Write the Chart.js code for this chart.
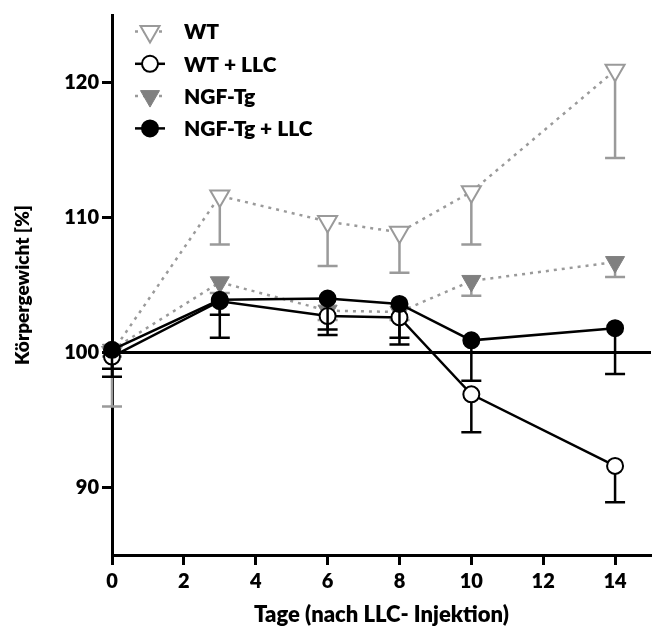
<!DOCTYPE html>
<html>
<head>
<meta charset="utf-8">
<script src="https://cdn.jsdelivr.net/npm/chart.js@4/dist/chart.umd.min.js"></script>
<style>
  html, body { margin: 0; padding: 0; background: #fff; overflow: hidden; }
  #wrap { width: 664px; height: 628px; }
  canvas { display: block; }
</style>
</head>
<body>
<div id="wrap"><canvas id="myChart" width="664" height="628"></canvas></div>
<script>
// Tage nach LLC-Injektion
const days = [0, 3, 6, 8, 10, 14];

// Körpergewicht [%] je Gruppe, Fehler = SEM (nach unten)
const wt = [100.0, 111.6, 109.7, 108.9, 111.9, 120.9];
const wtErr = [4.0, 3.6, 3.3, 3.0, 3.9, 6.5];
const wtLlc = [99.7, 103.8, 102.7, 102.6, 96.9, 91.6];
const wtLlcErr = [0.9, 1.0, 1.0, 1.5, 2.8, 2.7];
const ngf = [100.2, 105.2, 103.1, 103.0, 105.3, 106.7];
const ngfErr = [0.5, 0.8, 0.7, 0.6, 1.1, 1.1];
const ngfLlc = [100.2, 103.9, 104.0, 103.6, 100.9, 101.8];
const ngfLlcErr = [2.0, 2.8, 2.7, 3.0, 3.0, 3.4];

const yTicks = [90, 100, 110, 120];
const xTicks = [0, 2, 4, 6, 8, 10, 12, 14];

const FONT = "Lato, 'Open Sans', sans-serif";
const WEIGHT = '800';
const GREY = '#9a9a9a';
const GREY_DARK = '#808080';

const toPoints = (vals) => vals.map((v, i) => ({ x: days[i], y: v }));

// Fehlerbalken (nur nach unten, wie im Original)
const errorBars = {
    id: 'errorBars',
    beforeDatasetDraw(chart, args) {
        const ds = chart.data.datasets[args.index];
        if (!ds.errors) return;
        const ctx = chart.ctx;
        const yScale = chart.scales.y;
        ctx.save();
        ctx.strokeStyle = ds.errorColor;
        ctx.lineWidth = 2.5;
        args.meta.data.forEach((el, i) => {
            const yLow = yScale.getPixelForValue(ds.data[i].y - ds.errors[i]);
            ctx.beginPath();
            ctx.moveTo(el.x, el.y);
            ctx.lineTo(el.x, yLow);
            ctx.moveTo(el.x - 10, yLow);
            ctx.lineTo(el.x + 10, yLow);
            ctx.stroke();
        });
        ctx.restore();
    }
};

// Legende oben links im Diagramm (Linie + Symbol + Text)
const innerLegend = {
    id: 'innerLegend',
    afterDraw(chart) {
        const ctx = chart.ctx;
        ctx.save();
        chart.data.datasets.forEach((ds, i) => {
            const y = 31.5 + i * 32.3;
            ctx.strokeStyle = ds.borderColor;
            ctx.lineWidth = ds.borderWidth;
            ctx.setLineDash(ds.borderDash || []);
            ctx.beginPath();
            ctx.moveTo(135, y);
            ctx.lineTo(165, y);
            ctx.stroke();
            ctx.setLineDash([]);
            ctx.fillStyle = ds.pointBackgroundColor;
            ctx.strokeStyle = ds.pointBorderColor;
            ctx.lineWidth = ds.pointBorderWidth;
            Chart.helpers.drawPoint(ctx, {
                pointStyle: ds.pointStyle,
                rotation: ds.pointRotation || 0,
                radius: ds.pointRadius,
                borderWidth: ds.pointBorderWidth
            }, 150, y);
            ctx.fillStyle = '#000';
            ctx.font = WEIGHT + ' 21px ' + FONT;
            ctx.textBaseline = 'middle';
            ctx.textAlign = 'left';
            ctx.fillText(ds.label, 184, y + 1);
        });
        ctx.restore();
    }
};

const data = {
    datasets: [
        {
            label: 'WT',
            data: toPoints(wt),
            errors: wtErr,
            errorColor: GREY,
            borderColor: GREY,
            borderWidth: 2.5,
            borderDash: [3, 5],
            pointStyle: 'triangle',
            pointRotation: 180,
            pointRadius: 11,
            pointBackgroundColor: '#fff',
            pointBorderColor: GREY,
            pointBorderWidth: 2,
            order: 3,
        },
        {
            label: 'WT + LLC',
            data: toPoints(wtLlc),
            errors: wtLlcErr,
            errorColor: '#000',
            borderColor: '#000',
            borderWidth: 2.5,
            pointStyle: 'circle',
            pointRadius: 8,
            pointBackgroundColor: '#fff',
            pointBorderColor: '#000',
            pointBorderWidth: 2,
            order: 1,
        },
        {
            label: 'NGF-Tg',
            data: toPoints(ngf),
            errors: ngfErr,
            errorColor: GREY,
            borderColor: GREY,
            borderWidth: 2.5,
            borderDash: [3, 5],
            pointStyle: 'triangle',
            pointRotation: 180,
            pointRadius: 11,
            pointBackgroundColor: GREY_DARK,
            pointBorderColor: GREY_DARK,
            pointBorderWidth: 1,
            order: 2,
        },
        {
            label: 'NGF-Tg + LLC',
            data: toPoints(ngfLlc),
            errors: ngfLlcErr,
            errorColor: '#000',
            borderColor: '#000',
            borderWidth: 2.5,
            pointStyle: 'circle',
            pointRadius: 8,
            pointBackgroundColor: '#000',
            pointBorderColor: '#000',
            pointBorderWidth: 2,
            order: 0,
        },
    ],
};

const config = {
    type: 'line',
    data: data,
    plugins: [errorBars, innerLegend],
    options: {
        responsive: false,
        animation: false,
        events: [],
        clip: false,
        layout: { padding: { top: 15, right: 6, bottom: 0, left: 0 } },
        elements: { line: { tension: 0 } },
        plugins: {
            legend: { display: false },
            tooltip: { enabled: false },
        },
        scales: {
            x: {
                type: 'linear',
                min: 0,
                max: 15,
                afterBuildTicks: (scale) => {
                    scale.ticks = xTicks.map(v => ({ value: v }));
                },
                afterFit: (scale) => {
                    scale.height = 73;
                    scale.paddingLeft = 0;
                    scale.paddingRight = 0;
                },
                border: { display: true, color: '#000', width: 3 },
                grid: {
                    drawOnChartArea: false,
                    drawTicks: true,
                    tickLength: 10,
                    tickWidth: 3,
                    tickColor: '#000',
                },
                ticks: {
                    color: '#000',
                    padding: 5,
                    maxRotation: 0,
                    font: { family: FONT, weight: WEIGHT, size: 20 },
                },
                title: {
                    display: true,
                    text: 'Tage (nach LLC- Injektion)',
                    color: '#000',
                    padding: 0,
                    font: { family: FONT, weight: WEIGHT, size: 22 },
                },
            },
            y: {
                min: 85,
                max: 125,
                afterBuildTicks: (scale) => {
                    scale.ticks = yTicks.map(v => ({ value: v }));
                },
                afterFit: (scale) => {
                    scale.width = 112;
                    scale.paddingTop = 0;
                    scale.paddingBottom = 0;
                },
                border: { display: true, color: '#000', width: 3 },
                grid: {
                    // nur die 100%-Linie über das ganze Diagramm
                    color: (c) => (c.tick && c.tick.value === 100 ? '#000' : 'rgba(0,0,0,0)'),
                    lineWidth: 3,
                    drawTicks: true,
                    tickLength: 10,
                    tickWidth: 3,
                    tickColor: '#000',
                },
                ticks: {
                    color: '#000',
                    padding: 3,
                    font: { family: FONT, weight: WEIGHT, size: 20 },
                },
                title: {
                    display: true,
                    text: 'Körpergewicht [%]',
                    color: '#000',
                    padding: { top: 11, bottom: 0 },
                    font: { family: FONT, weight: WEIGHT, size: 19 },
                },
            },
        },
    },
};

const myChart = new Chart(document.getElementById('myChart'), config);
</script>
</body>
</html>
